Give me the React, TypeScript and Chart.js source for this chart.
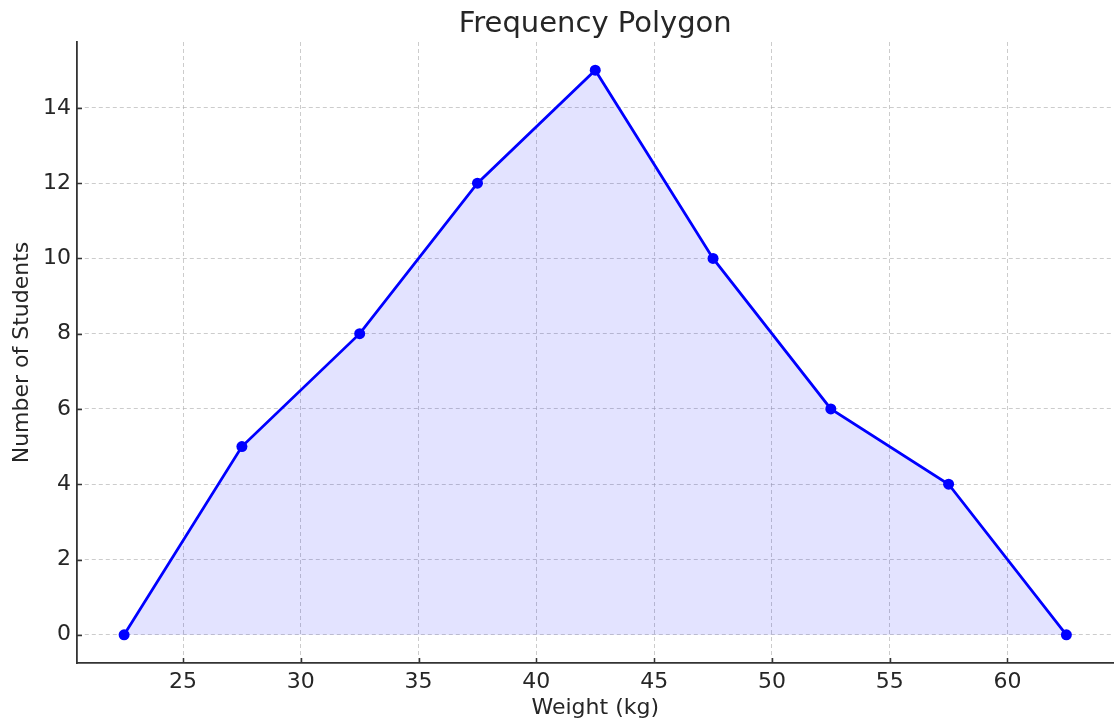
import React, { useEffect, useRef } from "react";
import { Chart, registerables } from "chart.js";

Chart.register(...registerables);

const weights = [22.5, 27.5, 32.5, 37.5, 42.5, 47.5, 52.5, 57.5, 62.5];
const students = [0, 5, 8, 12, 15, 10, 6, 4, 0];
const xTicks = [25, 30, 35, 40, 45, 50, 55, 60];
const yTicks = [0, 2, 4, 6, 8, 10, 12, 14];
const titleText = "Frequency Polygon";
const xLabel = "Weight (kg)";
const yLabel = "Number of Students";

const FONT = "'DejaVu Sans', sans-serif";
const TEXT = "#262626";
const SPINE = "#333333";
const GRID = "rgba(170,170,170,0.6)";

export default function App() {
  const ref = useRef<HTMLCanvasElement | null>(null);

  useEffect(() => {
    document.body.style.margin = "0";
    const canvas = ref.current;
    if (!canvas) return;

    const titlePlugin = {
      id: "mplTitle",
      afterDraw(chart: any) {
        const { ctx, chartArea } = chart;
        ctx.save();
        ctx.font = `29px ${FONT}`;
        ctx.fillStyle = TEXT;
        ctx.textAlign = "center";
        ctx.textBaseline = "alphabetic";
        ctx.fillText(titleText, (chartArea.left + chartArea.right) / 2, 32);
        // inward tick marks
        ctx.strokeStyle = SPINE;
        ctx.lineWidth = 1.5;
        const xs = chart.scales.x;
        const ys = chart.scales.y;
        ctx.beginPath();
        for (const v of xTicks) {
          const px = Math.round(xs.getPixelForValue(v)) + 0.5;
          ctx.moveTo(px, chartArea.bottom);
          ctx.lineTo(px, chartArea.bottom - 5);
        }
        for (const v of yTicks) {
          const py = Math.round(ys.getPixelForValue(v)) + 0.5;
          ctx.moveTo(chartArea.left, py);
          ctx.lineTo(chartArea.left + 5, py);
        }
        ctx.stroke();
        ctx.restore();
      },
    };

    const chart = new Chart(canvas, {
      type: "line",
      data: {
        datasets: [
          {
            data: weights.map((w, i) => ({ x: w, y: students[i] })),
            borderColor: "#0000ff",
            borderWidth: 2.8,
            backgroundColor: "rgba(0,0,255,0.11)",
            pointBackgroundColor: "#0000ff",
            pointBorderColor: "#0000ff",
            pointRadius: 5.5,
            pointBorderWidth: 0,
            fill: "origin",
            tension: 0,
          },
        ],
      },
      options: {
        responsive: false,
        animation: false,
        devicePixelRatio: 1,
        layout: { padding: { top: 42, right: 1, bottom: 0, left: 0 } },
        plugins: {
          legend: { display: false },
          tooltip: { enabled: false },
          title: { display: false },
        },
        scales: {
          x: {
            type: "linear",
            min: 20.5,
            max: 64.5,
            afterBuildTicks: (s: any) => {
              s.ticks = xTicks.map((v) => ({ value: v }));
            },
            afterFit: (s: any) => {
              s.height = 60;
            },
            grid: {
              color: GRID,
              lineWidth: 1,
              drawTicks: false,
            },
            border: { display: true, color: SPINE, width: 1.8, dash: [4, 3] },
            ticks: {
              color: TEXT,
              font: { family: FONT, size: 22 },
              padding: 6,
              maxRotation: 0,
              autoSkip: false,
            },
            title: {
              display: true,
              text: xLabel,
              color: TEXT,
              font: { family: FONT, size: 22 },
              padding: { top: 0, bottom: 2 },
            },
          },
          y: {
            type: "linear",
            min: -0.75,
            max: 15.75,
            afterBuildTicks: (s: any) => {
              s.ticks = yTicks.map((v) => ({ value: v }));
            },
            afterFit: (s: any) => {
              s.width = 77;
            },
            grid: {
              color: GRID,
              lineWidth: 1,
              drawTicks: false,
            },
            border: { display: true, color: SPINE, width: 1.8, dash: [4, 3] },
            ticks: {
              color: TEXT,
              font: { family: FONT, size: 22 },
              padding: 6,
              autoSkip: false,
            },
            title: {
              display: true,
              text: yLabel,
              color: TEXT,
              font: { family: FONT, size: 22 },
              padding: { top: 9, bottom: 0 },
            },
          },
        },
      },
      plugins: [titlePlugin],
    } as any);

    return () => chart.destroy();
  }, []);

  return (
    <div style={{ width: 1119, height: 723 }}>
      <canvas ref={ref} width={1119} height={723} />
    </div>
  );
}
